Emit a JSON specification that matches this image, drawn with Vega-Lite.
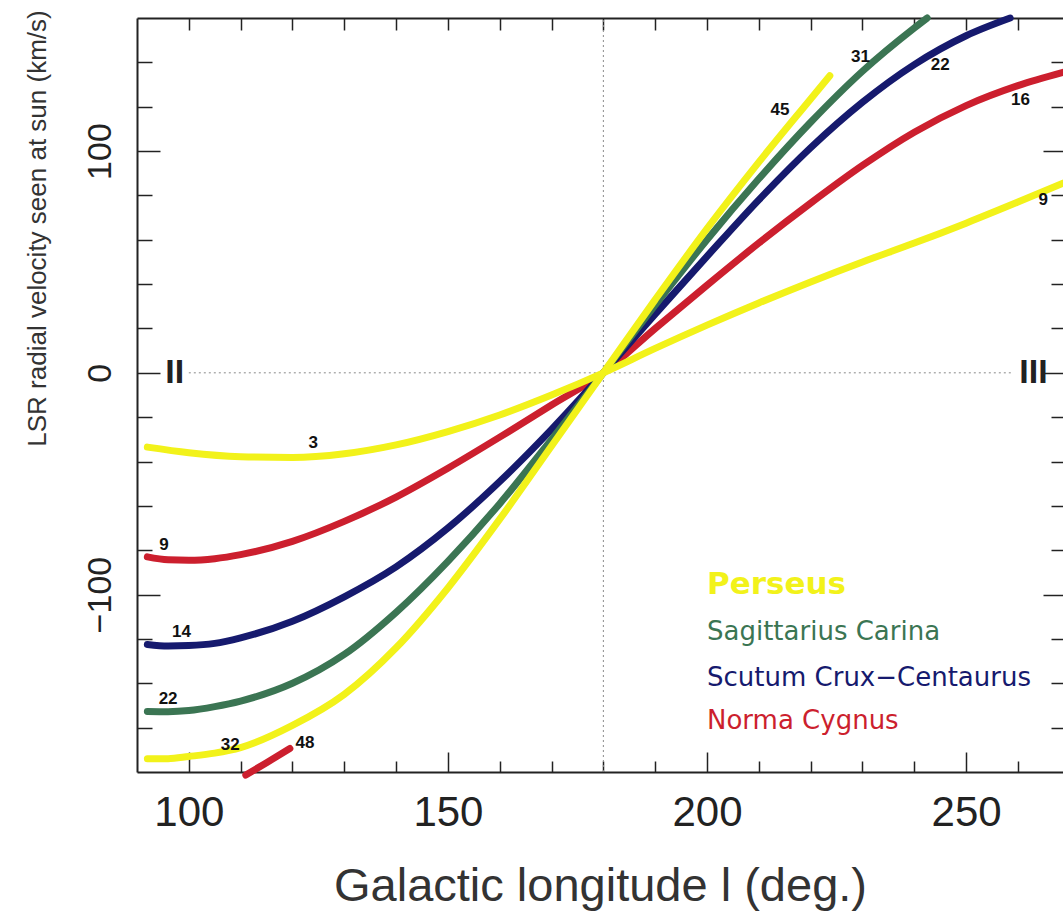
{
  "$schema": "https://vega.github.io/schema/vega-lite/v6.json",
  "width": 926,
  "height": 754,
  "autosize": {"type": "none"},
  "padding": {"left": 137, "top": 18, "right": 0, "bottom": 142},
  "background": "white",
  "config": {"view": {"stroke": null}, "axis": {"grid": false}},
  "datasets": {
    "guides": [
      {"x1": 180, "x2": 180, "y1": -180, "y2": 160},
      {"x1": 100, "x2": 259, "y1": 0, "y2": 0}
    ],
    "curves": [
      {"c": "N2", "arm": "Norma Cygnus", "l": 111, "v": -181.4},
      {"c": "N2", "arm": "Norma Cygnus", "l": 115, "v": -175.8},
      {"c": "N2", "arm": "Norma Cygnus", "l": 119.5, "v": -169.4},
      {"c": "N1", "arm": "Norma Cygnus", "l": 92, "v": -83},
      {"c": "N1", "arm": "Norma Cygnus", "l": 96, "v": -84.3},
      {"c": "N1", "arm": "Norma Cygnus", "l": 100, "v": -84.5},
      {"c": "N1", "arm": "Norma Cygnus", "l": 105, "v": -83.8},
      {"c": "N1", "arm": "Norma Cygnus", "l": 110, "v": -82},
      {"c": "N1", "arm": "Norma Cygnus", "l": 120, "v": -76},
      {"c": "N1", "arm": "Norma Cygnus", "l": 130, "v": -67},
      {"c": "N1", "arm": "Norma Cygnus", "l": 140, "v": -56},
      {"c": "N1", "arm": "Norma Cygnus", "l": 150, "v": -43},
      {"c": "N1", "arm": "Norma Cygnus", "l": 160, "v": -29},
      {"c": "N1", "arm": "Norma Cygnus", "l": 170, "v": -14.5},
      {"c": "N1", "arm": "Norma Cygnus", "l": 180, "v": 0},
      {"c": "N1", "arm": "Norma Cygnus", "l": 190, "v": 20},
      {"c": "N1", "arm": "Norma Cygnus", "l": 200, "v": 39.5},
      {"c": "N1", "arm": "Norma Cygnus", "l": 210, "v": 58.5},
      {"c": "N1", "arm": "Norma Cygnus", "l": 220, "v": 76.5},
      {"c": "N1", "arm": "Norma Cygnus", "l": 230, "v": 93.5},
      {"c": "N1", "arm": "Norma Cygnus", "l": 240, "v": 108.5},
      {"c": "N1", "arm": "Norma Cygnus", "l": 250, "v": 120.5},
      {"c": "N1", "arm": "Norma Cygnus", "l": 260, "v": 129.5},
      {"c": "N1", "arm": "Norma Cygnus", "l": 268.7, "v": 135.5},
      {"c": "C", "arm": "Scutum Crux−Centaurus", "l": 92, "v": -122.5},
      {"c": "C", "arm": "Scutum Crux−Centaurus", "l": 96, "v": -123.2},
      {"c": "C", "arm": "Scutum Crux−Centaurus", "l": 100, "v": -123},
      {"c": "C", "arm": "Scutum Crux−Centaurus", "l": 105, "v": -122},
      {"c": "C", "arm": "Scutum Crux−Centaurus", "l": 110, "v": -119.5},
      {"c": "C", "arm": "Scutum Crux−Centaurus", "l": 120, "v": -112},
      {"c": "C", "arm": "Scutum Crux−Centaurus", "l": 130, "v": -101},
      {"c": "C", "arm": "Scutum Crux−Centaurus", "l": 140, "v": -87.5},
      {"c": "C", "arm": "Scutum Crux−Centaurus", "l": 150, "v": -70},
      {"c": "C", "arm": "Scutum Crux−Centaurus", "l": 160, "v": -49},
      {"c": "C", "arm": "Scutum Crux−Centaurus", "l": 170, "v": -25.5},
      {"c": "C", "arm": "Scutum Crux−Centaurus", "l": 180, "v": 0},
      {"c": "C", "arm": "Scutum Crux−Centaurus", "l": 190, "v": 26.5},
      {"c": "C", "arm": "Scutum Crux−Centaurus", "l": 200, "v": 52.5},
      {"c": "C", "arm": "Scutum Crux−Centaurus", "l": 210, "v": 78},
      {"c": "C", "arm": "Scutum Crux−Centaurus", "l": 220, "v": 101.5},
      {"c": "C", "arm": "Scutum Crux−Centaurus", "l": 230, "v": 122},
      {"c": "C", "arm": "Scutum Crux−Centaurus", "l": 240, "v": 139},
      {"c": "C", "arm": "Scutum Crux−Centaurus", "l": 250, "v": 152},
      {"c": "C", "arm": "Scutum Crux−Centaurus", "l": 258.5, "v": 160},
      {"c": "S", "arm": "Sagittarius Carina", "l": 92, "v": -152.7},
      {"c": "S", "arm": "Sagittarius Carina", "l": 96, "v": -152.8},
      {"c": "S", "arm": "Sagittarius Carina", "l": 100, "v": -152.3},
      {"c": "S", "arm": "Sagittarius Carina", "l": 105, "v": -150.5},
      {"c": "S", "arm": "Sagittarius Carina", "l": 110, "v": -148},
      {"c": "S", "arm": "Sagittarius Carina", "l": 120, "v": -140},
      {"c": "S", "arm": "Sagittarius Carina", "l": 130, "v": -127},
      {"c": "S", "arm": "Sagittarius Carina", "l": 140, "v": -108},
      {"c": "S", "arm": "Sagittarius Carina", "l": 150, "v": -85},
      {"c": "S", "arm": "Sagittarius Carina", "l": 160, "v": -59},
      {"c": "S", "arm": "Sagittarius Carina", "l": 170, "v": -30},
      {"c": "S", "arm": "Sagittarius Carina", "l": 180, "v": 0},
      {"c": "S", "arm": "Sagittarius Carina", "l": 190, "v": 30.5},
      {"c": "S", "arm": "Sagittarius Carina", "l": 200, "v": 60},
      {"c": "S", "arm": "Sagittarius Carina", "l": 210, "v": 87.5},
      {"c": "S", "arm": "Sagittarius Carina", "l": 220, "v": 113},
      {"c": "S", "arm": "Sagittarius Carina", "l": 230, "v": 136},
      {"c": "S", "arm": "Sagittarius Carina", "l": 240, "v": 155.5},
      {"c": "S", "arm": "Sagittarius Carina", "l": 242.5, "v": 160},
      {"c": "P1", "arm": "Perseus", "l": 92, "v": -33.5},
      {"c": "P1", "arm": "Perseus", "l": 100, "v": -36},
      {"c": "P1", "arm": "Perseus", "l": 110, "v": -37.8},
      {"c": "P1", "arm": "Perseus", "l": 120, "v": -38.2},
      {"c": "P1", "arm": "Perseus", "l": 130, "v": -36.5},
      {"c": "P1", "arm": "Perseus", "l": 140, "v": -32.5},
      {"c": "P1", "arm": "Perseus", "l": 150, "v": -26.5},
      {"c": "P1", "arm": "Perseus", "l": 160, "v": -19},
      {"c": "P1", "arm": "Perseus", "l": 170, "v": -10},
      {"c": "P1", "arm": "Perseus", "l": 180, "v": 0},
      {"c": "P1", "arm": "Perseus", "l": 190, "v": 11},
      {"c": "P1", "arm": "Perseus", "l": 200, "v": 21.5},
      {"c": "P1", "arm": "Perseus", "l": 210, "v": 31.5},
      {"c": "P1", "arm": "Perseus", "l": 220, "v": 41},
      {"c": "P1", "arm": "Perseus", "l": 230, "v": 50},
      {"c": "P1", "arm": "Perseus", "l": 240, "v": 58.5},
      {"c": "P1", "arm": "Perseus", "l": 250, "v": 67.5},
      {"c": "P1", "arm": "Perseus", "l": 260, "v": 77},
      {"c": "P1", "arm": "Perseus", "l": 268.7, "v": 85.5},
      {"c": "P2", "arm": "Perseus", "l": 92, "v": -174},
      {"c": "P2", "arm": "Perseus", "l": 96, "v": -174},
      {"c": "P2", "arm": "Perseus", "l": 100, "v": -173},
      {"c": "P2", "arm": "Perseus", "l": 105, "v": -171.5},
      {"c": "P2", "arm": "Perseus", "l": 110, "v": -169},
      {"c": "P2", "arm": "Perseus", "l": 120, "v": -159},
      {"c": "P2", "arm": "Perseus", "l": 130, "v": -145},
      {"c": "P2", "arm": "Perseus", "l": 140, "v": -124},
      {"c": "P2", "arm": "Perseus", "l": 150, "v": -97},
      {"c": "P2", "arm": "Perseus", "l": 160, "v": -66},
      {"c": "P2", "arm": "Perseus", "l": 170, "v": -33},
      {"c": "P2", "arm": "Perseus", "l": 180, "v": 0},
      {"c": "P2", "arm": "Perseus", "l": 190, "v": 33},
      {"c": "P2", "arm": "Perseus", "l": 200, "v": 65},
      {"c": "P2", "arm": "Perseus", "l": 210, "v": 95},
      {"c": "P2", "arm": "Perseus", "l": 220, "v": 123.5},
      {"c": "P2", "arm": "Perseus", "l": 223.7, "v": 134}
    ],
    "nums": [
      {"t": "3", "l": 124, "v": -31.5},
      {"t": "9", "l": 95.2, "v": -77.5},
      {"t": "14", "l": 98.6, "v": -116.7},
      {"t": "22", "l": 96, "v": -147.3},
      {"t": "32", "l": 108, "v": -167.6},
      {"t": "48", "l": 122.4, "v": -166.7},
      {"t": "45", "l": 214.1, "v": 118.5},
      {"t": "31", "l": 229.6, "v": 142.3},
      {"t": "22", "l": 245, "v": 138.7},
      {"t": "16", "l": 260.5, "v": 123},
      {"t": "9", "l": 264.9, "v": 78}
    ],
    "quad": [
      {"t": "II", "l": 97.3, "v": 0},
      {"t": "III", "l": 263, "v": 0}
    ],
    "legend1": [
      {"arm": "Perseus", "l": 200, "v": -95.5}
    ],
    "legend2": [
      {"arm": "Sagittarius Carina", "l": 200, "v": -116.7},
      {"arm": "Scutum Crux−Centaurus", "l": 200, "v": -137.4},
      {"arm": "Norma Cygnus", "l": 200, "v": -157.2}
    ]
  },
  "resolve": {"axis": {"x": "independent", "y": "independent"}},
  "layer": [
    {
      "data": {"name": "guides"},
      "mark": {"type": "rule", "color": "#8a8a8a", "strokeDash": [2, 3], "strokeWidth": 1},
      "encoding": {
        "x": {
          "field": "x1", "type": "quantitative",
          "scale": {"domain": [90, 268.7], "nice": false, "zero": false},
          "axis": {
            "orient": "bottom",
            "values": [100, 110, 120, 130, 140, 150, 160, 170, 180, 190, 200, 210, 220, 230, 240, 250, 260],
            "labelExpr": "datum.value % 50 === 0 ? datum.label : ''",
            "labelOverlap": false, "labelFlush": false,
            "tickSize": {"condition": {"test": "datum.value % 50 === 0", "value": -20}, "value": -11},
            "labelPadding": 40,
            "labelBaseline": "top",
            "labelFont": "Liberation Sans", "labelFontSize": 42, "labelColor": "#222",
            "domainColor": "#222", "domainWidth": 2, "tickColor": "#222", "tickWidth": 1.5,
            "title": "Galactic longitude l (deg.)",
            "titleFont": "Liberation Sans", "titleFontSize": 47, "titleFontWeight": "normal", "titleColor": "#333",
            "titleY": 114, "titleBaseline": "middle"
          }
        },
        "x2": {"field": "x2"},
        "y": {
          "field": "y1", "type": "quantitative",
          "scale": {"domain": [-180, 160], "nice": false, "zero": false},
          "axis": {
            "orient": "left",
            "values": [-160, -140, -120, -100, -80, -60, -40, -20, 0, 20, 40, 60, 80, 100, 120, 140],
            "labelExpr": "datum.value % 100 === 0 ? datum.label : ''",
            "labelOverlap": false, "labelFlush": false,
            "tickSize": {"condition": {"test": "datum.value % 100 === 0", "value": -23}, "value": -15},
            "labelAngle": 270, "labelAlign": "center", "labelBaseline": "alphabetic",
            "labelPadding": 50,
            "labelFont": "Liberation Sans", "labelFontSize": 34, "labelColor": "#222",
            "domainColor": "#222", "domainWidth": 2, "tickColor": "#222", "tickWidth": 1.5,
            "title": "LSR radial velocity seen at sun (km/s)",
            "titleFont": "Liberation Sans", "titleFontSize": 26, "titleFontWeight": "normal", "titleColor": "#333",
            "titleAngle": 270, "titleX": -100, "titleY": 210, "titleAlign": "center", "titleBaseline": "middle"
          }
        },
        "y2": {"field": "y2"}
      }
    },
    {
      "data": {"name": "curves"},
      "mark": {"type": "line", "strokeWidth": 7, "interpolate": "monotone", "strokeCap": "round", "clip": false},
      "encoding": {
        "x": {
          "field": "l", "type": "quantitative",
          "axis": {
            "orient": "top",
            "values": [100, 110, 120, 130, 140, 150, 160, 170, 180, 190, 200, 210, 220, 230, 240, 250, 260],
            "labels": false, "title": null, "tickSize": -12,
            "domainColor": "#222", "domainWidth": 2, "tickColor": "#222", "tickWidth": 1.5
          }
        },
        "y": {
          "field": "v", "type": "quantitative",
          "axis": {
            "orient": "right",
            "values": [-160, -140, -120, -100, -80, -60, -40, -20, 0, 20, 40, 60, 80, 100, 120, 140],
            "labels": false, "title": null, "domain": false,
            "tickSize": {"condition": {"test": "datum.value % 100 === 0", "value": -20}, "value": -12},
            "tickColor": "#222", "tickWidth": 1.5
          }
        },
        "color": {
          "field": "arm", "type": "nominal",
          "scale": {
            "domain": ["Perseus", "Sagittarius Carina", "Scutum Crux−Centaurus", "Norma Cygnus"],
            "range": ["#f2f21a", "#3b7553", "#161a6e", "#cc1f2e"]
          },
          "legend": null
        },
        "detail": {"field": "c"}
      }
    },
    {
      "data": {"name": "nums"},
      "mark": {"type": "text", "font": "Liberation Sans", "fontWeight": "bold", "fontSize": 17, "color": "#111", "align": "center", "baseline": "middle"},
      "encoding": {
        "x": {"field": "l", "type": "quantitative", "axis": null},
        "y": {"field": "v", "type": "quantitative", "axis": null},
        "text": {"field": "t"}
      }
    },
    {
      "data": {"name": "quad"},
      "mark": {"type": "text", "font": "Liberation Sans", "fontWeight": "bold", "fontSize": 34, "color": "#222", "align": "center", "baseline": "middle"},
      "encoding": {
        "x": {"field": "l", "type": "quantitative", "axis": null},
        "y": {"field": "v", "type": "quantitative", "axis": null},
        "text": {"field": "t"}
      }
    },
    {
      "data": {"name": "legend1"},
      "mark": {"type": "text", "font": "DejaVu Sans", "fontWeight": "bold", "fontSize": 31, "align": "left", "baseline": "middle"},
      "encoding": {
        "x": {"field": "l", "type": "quantitative", "axis": null},
        "y": {"field": "v", "type": "quantitative", "axis": null},
        "text": {"field": "arm"},
        "color": {"field": "arm", "type": "nominal", "legend": null}
      }
    },
    {
      "data": {"name": "legend2"},
      "mark": {"type": "text", "font": "DejaVu Sans", "fontSize": 26, "align": "left", "baseline": "middle"},
      "encoding": {
        "x": {"field": "l", "type": "quantitative", "axis": null},
        "y": {"field": "v", "type": "quantitative", "axis": null},
        "text": {"field": "arm"},
        "color": {"field": "arm", "type": "nominal", "legend": null}
      }
    }
  ]
}
